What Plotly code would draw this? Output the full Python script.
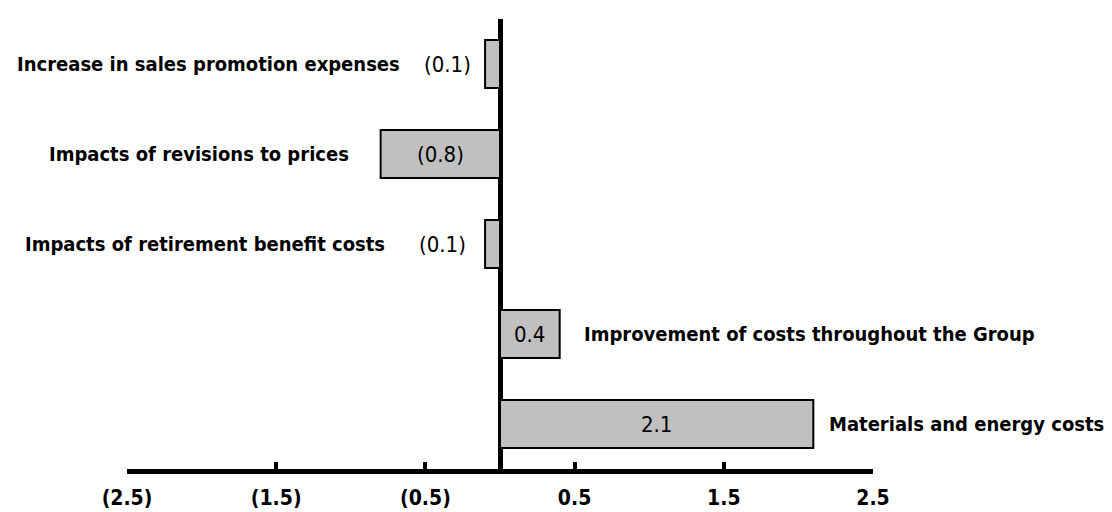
import plotly.graph_objects as go

categories = [
    "Increase in sales promotion expenses",
    "Impacts of revisions to prices",
    "Impacts of retirement benefit costs",
    "Improvement of costs throughout the Group",
    "Materials and energy costs",
]
values = [-0.1, -0.8, -0.1, 0.4, 2.1]
value_labels = ["(0.1)", "(0.8)", "(0.1)", "0.4", "2.1"]
tick_values = [-2.5, -1.5, -0.5, 0.5, 1.5, 2.5]
tick_labels = ["(2.5)", "(1.5)", "(0.5)", "0.5", "1.5", "2.5"]

FONT = "DejaVu Sans Condensed, DejaVu Sans, sans-serif"

fig = go.Figure()
fig.add_trace(go.Bar(
    y=categories, x=values, orientation="h",
    marker=dict(color="#c0c0c0", line=dict(color="black", width=2)),
    width=0.533, hoverinfo="skip",
))

annotations = []
# value labels: inside for larger bars, outside for tiny bars
inside = [False, True, False, True, True]
val_shift = [-12, 0, -17, 0, 0]
for c, v, t, ins, sh in zip(categories, values, value_labels, inside, val_shift):
    if ins:
        annotations.append(dict(x=v / 2, y=c, text=t, showarrow=False, xanchor="center",
                                font=dict(family=FONT, size=22, color="black")))
    else:
        annotations.append(dict(x=v, y=c, text=t, showarrow=False, xanchor="right", xshift=sh,
                                font=dict(family=FONT, size=22, color="black")))

# category labels
cat_shift = [-83, -30, -98, 22, 14]
for c, v, sh in zip(categories, values, cat_shift):
    annotations.append(dict(x=v, y=c, text=c, showarrow=False,
                            xanchor="right" if v < 0 else "left", xshift=sh,
                            font=dict(family=FONT, size=20, color="black", weight="bold")))

fig.update_layout(
    width=1104, height=504,
    margin=dict(l=119, r=239, t=11, b=43),
    paper_bgcolor="white", plot_bgcolor="white",
    showlegend=False,
    font=dict(family=FONT, size=20, color="black"),
    annotations=annotations,
    xaxis=dict(
        range=[-2.5, 2.5], showgrid=False, automargin=False,
        zeroline=True, zerolinecolor="black", zerolinewidth=5,
        showline=True, linecolor="black", linewidth=5,
        ticks="inside", ticklen=7, tickwidth=4, tickcolor="black",
        tickvals=tick_values, ticktext=tick_labels,
        ticklabelstandoff=6,
        tickfont=dict(family=FONT, size=21, color="black", weight="bold"),
    ),
    yaxis=dict(
        type="category", categoryorder="array", categoryarray=categories[::-1],
        visible=False, range=[-0.5, 4.5], automargin=False,
    ),
)

fig.write_html("out.html")
